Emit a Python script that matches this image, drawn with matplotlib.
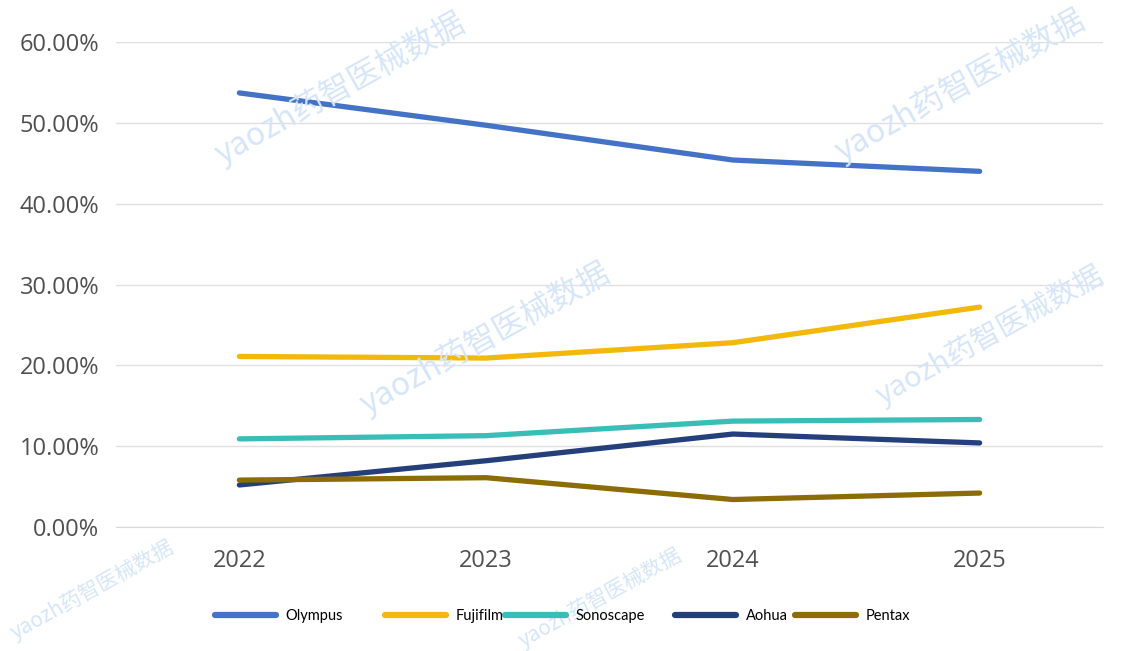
import matplotlib.pyplot as plt
from matplotlib.lines import Line2D
from matplotlib.ticker import PercentFormatter

years = ["2022", "2023", "2024", "2025"]
olympus = [53.7, 49.7, 45.4, 44.0]
fujifilm = [21.1, 20.9, 22.8, 27.2]
sonoscape = [10.9, 11.3, 13.1, 13.3]
aohua = [5.2, 8.2, 11.5, 10.4]
pentax = [5.8, 6.1, 3.4, 4.2]

names = ["Olympus", "Fujifilm", "Sonoscape", "Aohua", "Pentax"]
colors = ["#4472c4", "#f2b90c", "#38bdb7", "#243f7a", "#8b6c06"]
series = [olympus, fujifilm, sonoscape, aohua, pentax]

fig = plt.figure(figsize=(11.26, 6.51), dpi=100)
ax = fig.add_axes([116 / 1126, 1 - 527 / 651, (1103 - 116) / 1126, (527 - 42) / 651])

# watermark (kept inside the canvas)
wm = "yaozh药智医械数据"
for (x, y, fs) in [(340, 88, 23), (960, 85, 23), (485, 338, 23), (990, 335, 21),
                   (92, 590, 15), (600, 598, 15)]:
    fig.text(x / 1126, 1 - y / 651, wm, rotation=29, ha="center", va="center",
             fontsize=fs, color="#d6e6f8", family=["Noto Sans CJK SC", "DejaVu Sans"],
             zorder=0)

x = range(len(years))
for name, vals, c in zip(names, series, colors):
    ax.plot(x, vals, color=c, lw=3.8, solid_capstyle="round", solid_joinstyle="round",
            label=name, zorder=3)

ax.set_xlim(-0.5, 3.5)
ax.set_ylim(0, 60)
ax.set_yticks(range(0, 61, 10))
ax.yaxis.set_major_formatter(PercentFormatter(decimals=2))
ax.set_xticks(list(x))
ax.set_xticklabels(years)
ax.grid(axis="y", color="#e0e0e0", lw=1)
ax.set_axisbelow(True)
for s in ["top", "right", "left"]:
    ax.spines[s].set_visible(False)
ax.spines["bottom"].set_color("#d9d9d9")
ax.tick_params(length=0, labelsize=17, labelcolor="#505050", pad=16)
ax.tick_params(axis="y", pad=12)
for lab in ax.get_xticklabels() + ax.get_yticklabels():
    lab.set_family("Open Sans")
ax.patch.set_alpha(0)

# legend entries placed one by one like the original
leg_x = [215, 385, 505, 675, 795]
for name, c, lx in zip(names, colors, leg_x):
    h = Line2D([], [], color=c, lw=4.5, solid_capstyle="round")
    fig.legend(handles=[h], labels=[name], loc="center left",
               bbox_to_anchor=(lx / 1126, 1 - 616 / 651), frameon=False,
               borderpad=0, borderaxespad=0, handlelength=4.2, handletextpad=0.65,
               prop={"family": "Lato", "size": 10.5})

fig.savefig("out.png", dpi=100)
